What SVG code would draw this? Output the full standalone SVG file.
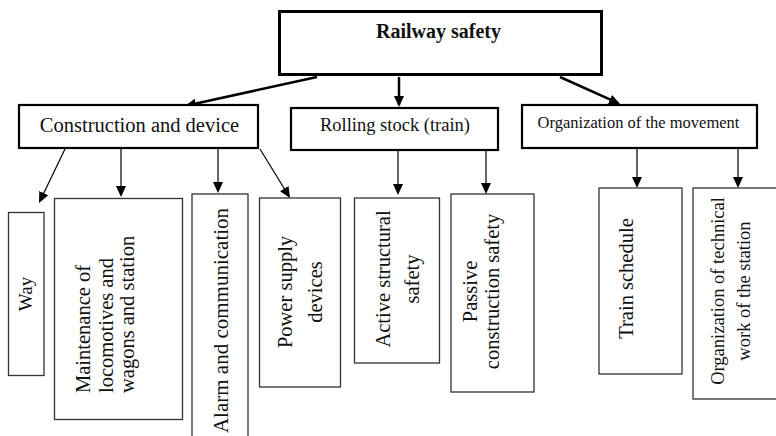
<svg xmlns="http://www.w3.org/2000/svg" width="776" height="436" viewBox="0 0 776 436">
<style>
  text { font-family: "Liberation Serif", "Times New Roman", serif; fill: #111; }
  .top { fill: #fff; stroke: #000; stroke-width: 3; }
  .mid { fill: #fff; stroke: #000; stroke-width: 2.2; }
  .leaf { fill: #fff; stroke: #333; stroke-width: 1.3; }
  .thick { stroke: #000; stroke-width: 2.5; fill: none; marker-end: url(#ah); }
  .thin { stroke: #000; stroke-width: 1.2; fill: none; marker-end: url(#ah); }
</style>
<defs>
  <marker id="ah" markerUnits="userSpaceOnUse" markerWidth="12" markerHeight="11" refX="9" refY="5" orient="auto">
    <path d="M0,0 L11,5 L0,10 z" fill="#000"/>
  </marker>
</defs>
<rect width="776" height="436" fill="#fff"/>

<g id="connectors">
  <line class="thick" x1="317" y1="77" x2="186.95" y2="105.57"/>
  <line class="thick" x1="399" y1="77" x2="399" y2="105"/>
  <line class="thick" x1="560" y1="77" x2="618.2" y2="103.2"/>
  <line class="thin" x1="65" y1="149" x2="39.87" y2="201.2"/>
  <line class="thin" x1="121" y1="149" x2="121" y2="195"/>
  <line class="thin" x1="218" y1="149" x2="218" y2="191"/>
  <line class="thin" x1="260" y1="149" x2="288.96" y2="196.3"/>
  <line class="thin" x1="398" y1="151" x2="398" y2="193"/>
  <line class="thin" x1="486" y1="151" x2="486" y2="192"/>
  <line class="thin" x1="637" y1="149" x2="637" y2="186"/>
  <line class="thin" x1="738" y1="149" x2="738" y2="186"/>
</g>

<g id="railway-safety">
  <rect class="top" x="279.5" y="11.5" width="322" height="63"/>
  <text x="438.5" y="38" font-size="20" font-weight="bold" text-anchor="middle">Railway safety</text>
</g>
<g id="construction">
  <rect class="mid" x="19" y="105" width="239" height="43"/>
  <text x="139.5" y="132" font-size="20.5" text-anchor="middle">Construction and device</text>
</g>
<g id="rolling-stock">
  <rect class="mid" x="291" y="108" width="207" height="42"/>
  <text x="395" y="131" font-size="18.5" text-anchor="middle">Rolling stock (train)</text>
</g>
<g id="organization">
  <rect class="mid" x="522" y="105" width="235" height="43"/>
  <text x="638.5" y="128" font-size="16.5" text-anchor="middle">Organization of the movement</text>
</g>

<g id="way">
  <rect class="leaf" x="8.5" y="212.5" width="35.5" height="163"/>
  <text transform="translate(32,294) rotate(-90)" font-size="19" text-anchor="middle">Way</text>
</g>
<g id="maintenance">
  <rect class="leaf" x="54.5" y="198.5" width="128" height="221"/>
  <text transform="translate(90,393) rotate(-90)" font-size="20.5">Maintenance of</text>
  <text transform="translate(113,393) rotate(-90)" font-size="20.5">locomotives and</text>
  <text transform="translate(133.5,393) rotate(-90)" font-size="20.5">wagons and station</text>
</g>
<g id="alarm">
  <rect class="leaf" x="192" y="194" width="56" height="260"/>
  <text transform="translate(228,320.5) rotate(-90)" font-size="21" text-anchor="middle">Alarm and communication</text>
</g>
<g id="power">
  <rect class="leaf" x="259.5" y="198" width="81" height="189"/>
  <text transform="translate(292,292) rotate(-90)" font-size="20.5" text-anchor="middle">Power supply</text>
  <text transform="translate(322,292) rotate(-90)" font-size="20.5" text-anchor="middle">devices</text>
</g>
<g id="active">
  <rect class="leaf" x="354.5" y="198" width="85" height="165"/>
  <text transform="translate(390,279) rotate(-90)" font-size="20.5" text-anchor="middle">Active structural</text>
  <text transform="translate(419,279) rotate(-90)" font-size="20.5" text-anchor="middle">safety</text>
</g>
<g id="passive">
  <rect class="leaf" x="451" y="194" width="83" height="198"/>
  <text transform="translate(477,291.5) rotate(-90)" font-size="20.5" text-anchor="middle">Passive</text>
  <text transform="translate(499,291.5) rotate(-90)" font-size="20.5" text-anchor="middle">construction safety</text>
</g>
<g id="train-schedule">
  <rect class="leaf" x="599" y="188" width="83" height="186"/>
  <text transform="translate(633,278.5) rotate(-90)" font-size="20.5" text-anchor="middle">Train schedule</text>
</g>
<g id="technical-work">
  <rect class="leaf" x="693" y="188" width="100" height="211"/>
  <text transform="translate(724,291) rotate(-90)" font-size="18.5" text-anchor="middle">Organization of technical</text>
  <text transform="translate(750,291) rotate(-90)" font-size="18.5" text-anchor="middle">work of the station</text>
</g>
</svg>
